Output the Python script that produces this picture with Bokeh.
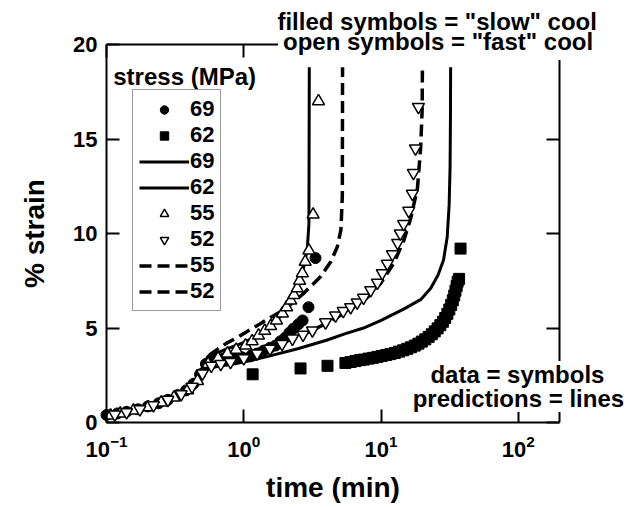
from bokeh.plotting import figure
from bokeh.models import (Range1d, LogAxis, LinearAxis, FixedTicker, LogTickFormatter,
                          LogScale, Label, Legend, LegendItem)
from bokeh.embed import file_html
from bokeh.resources import INLINE

FONT = "Liberation Sans"

# ---------------- data (time in min, % strain) ----------------
# predictions (lines)
t69p = [0.1, 0.13, 0.17, 0.22, 0.28, 0.34, 0.40, 0.45, 0.50, 0.57, 0.65, 0.75, 0.9, 1.05, 1.3, 1.6,
        1.9, 2.2, 2.5, 2.75, 2.9, 2.98, 3.0]
s69p = [0.4, 0.5, 0.66, 0.9, 1.18, 1.48, 1.85, 2.25, 2.85, 3.5, 3.7, 3.9, 4.1, 4.3, 4.7, 5.15,
        5.7, 6.4, 7.3, 8.3, 9.2, 10.5, 18.8]

t62p = [0.1, 0.13, 0.17, 0.22, 0.28, 0.34, 0.40, 0.45, 0.50, 0.55, 0.65, 0.8, 1.0, 1.5, 2.47, 4.0,
        5.5, 7.45, 10, 14.6, 19.4, 23, 26, 28.5, 30.3, 31.3, 31.8, 32.0, 32.1]
s62p = [0.4, 0.5, 0.66, 0.9, 1.18, 1.48, 1.85, 2.25, 2.65, 2.85, 2.97, 3.07, 3.2, 3.5, 3.9, 4.35,
        4.7, 5.0, 5.4, 6.0, 6.5, 7.1, 7.8, 8.6, 9.8, 11.5, 13.5, 16.0, 18.8]

t55p = [0.1, 0.13, 0.17, 0.22, 0.28, 0.34, 0.40, 0.45, 0.50, 0.57, 0.65, 0.75, 0.9, 1.05, 1.3, 1.6,
        2.0, 2.7, 3.6, 4.3, 4.8, 5.1, 5.22, 5.24]
s55p = [0.4, 0.5, 0.66, 0.9, 1.18, 1.48, 1.85, 2.25, 2.9, 3.6, 3.9, 4.2, 4.5, 4.8, 5.2, 5.6,
        6.0, 6.8, 7.7, 8.5, 9.3, 10.2, 12.0, 18.8]

t52p = [0.1, 0.13, 0.17, 0.22, 0.28, 0.34, 0.40, 0.45, 0.50, 0.57, 0.7, 0.9, 1.2, 1.6, 2.2, 3.0,
        4.0, 5.0, 6.3, 7.9, 9.9, 12.3, 14.6, 16.5, 18.4, 19.4, 19.9, 20.0]
s52p = [0.4, 0.5, 0.66, 0.9, 1.18, 1.48, 1.85, 2.25, 2.8, 3.3, 3.45, 3.6, 3.8, 4.05, 4.4, 4.8,
        5.25, 5.65, 6.1, 6.6, 7.35, 8.4, 9.6, 10.85, 12.4, 14.5, 16.5, 18.8]

# data (symbols)
t69 = [0.1, 0.12, 0.14, 0.17, 0.2, 0.24, 0.28, 0.33, 0.38, 0.43, 0.48, 0.53, 0.58, 0.64, 0.72,
       0.84, 0.97, 1.12, 1.25, 1.39, 1.55, 1.70, 1.85, 2.01, 2.15, 2.30, 2.5, 2.68, 2.96, 3.33]
s69 = [0.4, 0.48, 0.57, 0.7, 0.85, 1.02, 1.2, 1.45, 1.7, 2.05, 2.55, 3.1, 3.35, 3.4, 3.4,
       3.4, 3.45, 3.5, 3.65, 3.8, 3.95, 4.07, 4.3, 4.5, 4.75, 4.97, 5.2, 5.4, 6.1, 8.7]

t62 = [1.16, 2.59, 4.07, 5.5, 6.0, 6.5, 7.0, 7.5, 8.1, 8.7, 9.4, 10.1, 10.9, 11.7, 12.6, 13.5,
       14.5, 15.5, 16.5, 17.6, 18.7, 19.8, 21.0, 22.2, 23.4, 24.6, 25.8, 27.0, 28.2, 29.3, 30.4,
       31.4, 32.4, 33.3, 34.1, 34.8, 35.5, 36.1, 37.0, 37.9]
s62 = [2.55, 2.86, 3.0, 3.15, 3.2, 3.25, 3.3, 3.33, 3.38, 3.42, 3.47, 3.52, 3.57, 3.62, 3.68, 3.75,
       3.82, 3.9, 3.98, 4.07, 4.17, 4.28, 4.4, 4.53, 4.67, 4.82, 4.98, 5.15, 5.33, 5.53, 5.75,
       5.98, 6.22, 6.47, 6.72, 6.97, 7.22, 7.45, 7.6, 9.2]

t55 = [0.107, 0.126, 0.157, 0.2, 0.25, 0.31, 0.39, 0.46, 0.55, 0.65, 0.76, 0.88, 1.03, 1.15,
       1.28, 1.42, 1.57, 1.73, 1.91, 2.05, 2.2, 2.32, 2.45, 2.55, 2.67, 2.8, 2.98, 3.2, 3.5]
s55 = [0.37, 0.48, 0.63, 0.8, 1.06, 1.32, 1.7, 2.2, 3.1, 3.4, 3.65, 3.85, 4.07, 4.3,
       4.6, 4.85, 5.1, 5.4, 5.77, 6.1, 6.45, 6.75, 7.1, 7.5, 7.9, 8.5, 9.1, 11.0, 17.0]

t52 = [0.115, 0.14, 0.175, 0.22, 0.28, 0.35, 0.42, 0.5, 0.58, 0.68, 0.8, 1.0, 1.25, 1.55, 1.9,
       2.26, 2.7, 3.16, 3.94, 4.66, 5.3, 6.0, 6.7, 7.45, 8.4, 9.4, 10.2, 11.1, 12.1, 13.2, 13.8,
       14.6, 15.9, 16.9, 17.2, 17.8, 18.7]
s52 = [0.42, 0.55, 0.7, 0.92, 1.2, 1.5, 1.9, 2.6, 3.0, 3.1, 3.2, 3.4, 3.65, 3.9, 4.15,
       4.44, 4.65, 4.87, 5.3, 5.66, 5.9, 6.1, 6.35, 6.6, 7.0, 7.4, 7.9, 8.4, 8.9, 9.5, 10.0,
       10.5, 11.2, 12.1, 13.2, 14.5, 16.7]

x_ticks = [0.1, 1, 10, 100]
y_ticks = [0, 5, 10, 15, 20]
x_bounds = (0.1, 200)
y_bounds = (0, 20)

# ---------------- figure ----------------
# frame covers the whole canvas; the visible box is drawn by fixed-location axes
p = figure(width=635, height=507, x_axis_type=None, y_axis_type=None,
           x_range=Range1d(0.01690, 712.9), y_range=Range1d(-4.497, 22.328),
           output_backend="svg", toolbar_location=None,
           min_border=0, min_border_left=0, min_border_right=0,
           min_border_top=0, min_border_bottom=0)
p.x_scale = LogScale()
p.background_fill_color = "white"
p.border_fill_color = "white"
p.outline_line_color = None


def style_axis(ax, show_labels=True):
    ax.axis_line_color = "black"
    ax.axis_line_width = 2
    ax.major_tick_in = 13
    ax.major_tick_out = 0
    ax.major_tick_line_width = 2
    ax.major_tick_line_color = "black"
    ax.minor_tick_line_color = None
    ax.major_label_text_font = FONT
    ax.major_label_text_font_style = "bold"
    ax.major_label_text_font_size = "22px"
    ax.major_label_text_color = "black" if show_labels else None
    ax.axis_label_text_font = FONT
    ax.axis_label_text_font_style = "bold"
    ax.axis_label_text_color = "black"
    ax.axis_label_text_font_size = "28px"


xa = LogAxis(ticker=FixedTicker(ticks=x_ticks), formatter=LogTickFormatter(),
             fixed_location=0, bounds=x_bounds)
style_axis(xa)
xa.major_label_standoff = 12
xa.axis_label = "time (min)"
xa.axis_label_standoff = 12
p.add_layout(xa, "below")

ya = LinearAxis(ticker=FixedTicker(ticks=y_ticks), fixed_location=0.1, bounds=y_bounds)
style_axis(ya)
ya.major_label_standoff = 9
ya.axis_label = "% strain"
ya.axis_label_standoff = 20
p.add_layout(ya, "left")

top = LogAxis(ticker=FixedTicker(ticks=x_ticks), fixed_location=20, bounds=x_bounds)
style_axis(top, False)
p.add_layout(top, "above")
right = LinearAxis(ticker=FixedTicker(ticks=y_ticks), fixed_location=200, bounds=y_bounds)
style_axis(right, False)
p.add_layout(right, "right")

# prediction lines
r_l69 = p.line(t69p, s69p, line_color="black", line_width=3)
r_l62 = p.line(t62p, s62p, line_color="black", line_width=3)
r_l55 = p.line(t55p, s55p, line_color="black", line_width=3.5, line_dash="12 6")
r_l52 = p.line(t52p, s52p, line_color="black", line_width=3.5, line_dash="12 6")

# data symbols
r_c69 = p.scatter(t69, s69, marker="circle", size=11, fill_color="black", line_color="black")
r_s62 = p.scatter(t62, s62, marker="square", size=11, fill_color="black", line_color="black")
r_t55 = p.scatter(t55, s55, marker="triangle", size=12, fill_color="white", line_color="black",
                  line_width=1.5)
r_t52 = p.scatter(t52, s52, marker="inverted_triangle", size=12, fill_color="white",
                  line_color="black", line_width=1.5)

legend = Legend(items=[
    LegendItem(label="69", renderers=[r_c69]),
    LegendItem(label="62", renderers=[r_s62]),
    LegendItem(label="69", renderers=[r_l69]),
    LegendItem(label="62", renderers=[r_l62]),
    LegendItem(label="55", renderers=[r_t55]),
    LegendItem(label="52", renderers=[r_t52]),
    LegendItem(label="55", renderers=[r_l55]),
    LegendItem(label="52", renderers=[r_l52]),
], location=(132, 196))
legend.label_text_font = FONT
legend.label_text_font_style = "bold"
legend.label_text_font_size = "22px"
legend.label_text_color = "black"
legend.label_height = 21
legend.glyph_height = 21
legend.glyph_width = 50
legend.label_standoff = 1
legend.spacing = 0
legend.padding = 6
legend.margin = 0
legend.border_line_color = "#333333"
legend.border_line_width = 1
legend.background_fill_color = "white"
legend.background_fill_alpha = 1
p.add_layout(legend)


def add_label(x, y, text, align="center", bg=None, pad=0):
    lab = Label(x=x, y=y, text=text, text_font=FONT, text_font_style="bold",
                text_font_size="24px", text_color="black", text_align=align,
                text_baseline="middle")
    if bg:
        lab.background_fill_color = bg
        lab.background_fill_alpha = 1
        lab.padding = pad
    p.add_layout(lab)


add_label(0.112, 18.3, "stress (MPa)", align="left")
add_label(27.5, 20.16, 'open symbols = "fast"  cool', bg="white", pad=5)
add_label(27.1, 21.21, 'filled symbols = "slow"  cool')
add_label(100, 1.27, "predictions = lines", bg="white")
add_label(98.4, 2.54, "data = symbols", bg="white")

open("out.html", "w").write(file_html(p, INLINE))
